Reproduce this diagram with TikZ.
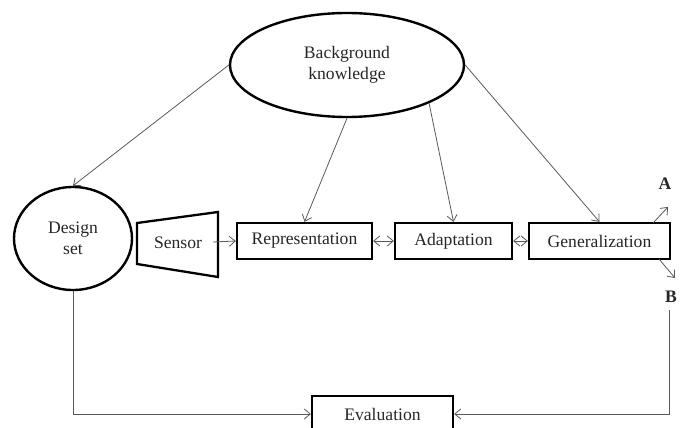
\documentclass[tikz,border=0pt]{standalone}
\usepackage{fontspec}
\setmainfont{Liberation Serif}
\usetikzlibrary{arrows.meta,shapes.geometric}
\begin{document}
\begin{tikzpicture}[x=1pt,y=-1pt,
  every node/.style={font=\fontsize{17.6}{21.5}\selectfont, inner sep=0pt, align=center, text=black!85},
  box/.style={draw=black, line width=2.3pt, minimum height=36pt},
  conn/.style={draw=black!65, line width=0.8pt, -{Straight Barb[length=6pt,width=10pt]}},
  dconn/.style={draw=black!65, line width=0.8pt, {Straight Barb[length=6pt,width=10pt]}-{Straight Barb[length=6pt,width=10pt]}},
  lbl/.style={font=\fontsize{17.6}{21}\selectfont\bfseries}]
\useasboundingbox (0,0) rectangle (681,428);
\clip (0,0) rectangle (681,428);
\node[draw=black, ellipse, line width=2.4pt, minimum width=234pt, minimum height=104pt] (bg) at (347,65) {Background\\knowledge};
\node[draw=black, ellipse, line width=2.4pt, minimum width=118pt, minimum height=103pt] (ds) at (73,238.5) {Design\\set};
\draw[line width=2.3pt] (137,223) -- (218,212) -- (218,277) -- (137,264) -- cycle;
\node (sensor) at (178,243) {Sensor};
\coordinate (sr) at (213,242);
\node[box, minimum width=135pt] (rep) at (304.5,241) {Representation};
\node[box, minimum width=117pt] (ada) at (453.5,241) {Adaptation};
\node[box, minimum width=141pt] (gen) at (599.5,241) {Generalization};
\node[box, minimum width=141pt] (ev) at (382.5,414) {Evaluation};
\node[lbl] (A) at (665,184) {A};
\node[lbl] (B) at (671,297) {B};
\coordinate (a0) at (653,223);
\coordinate (a1) at (668,207);
\coordinate (b0) at (659,259);
\coordinate (b1) at (675,278);
\coordinate (bs) at (669.5,310);
\draw[conn] (bg.west) -- (ds.north);
\draw[conn] (bg.south) -- (rep.north);
\draw[conn] (bg.-25) -- (ada.north);
\draw[conn] (bg.east) -- (gen.north);
\draw[conn] (sr) -- (rep.west);
\draw[dconn] (rep.east) -- (ada.west);
\draw[dconn] (ada.east) -- (gen.west);
\draw[conn] (a0) -- (a1);
\draw[conn] (b0) -- (b1);
\draw[conn] (ds.south) |- (ev.west);
\draw[conn] (bs) |- (ev.east);
\end{tikzpicture}
\end{document}
